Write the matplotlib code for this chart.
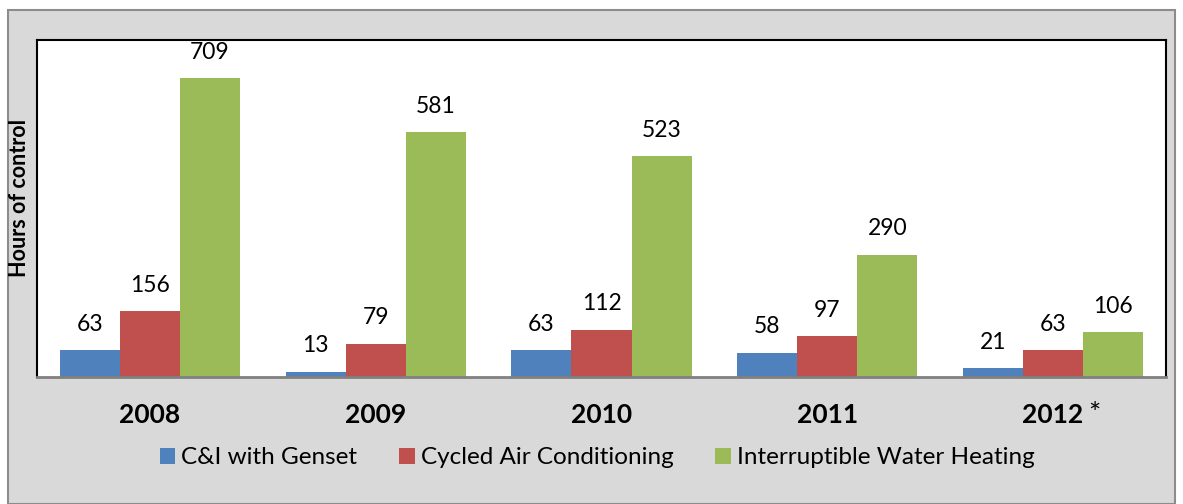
import numpy as np
import matplotlib.pyplot as plt
from matplotlib.patches import Rectangle

years = ['2008', '2009', '2010', '2011', '2012']
series = ['C&I with Genset', 'Cycled Air Conditioning', 'Interruptible Water Heating']
genset = [63, 13, 63, 58, 21]
cycled_ac = [156, 79, 112, 97, 63]
water_heating = [709, 581, 523, 290, 106]
colors = ['#4F81BD', '#C0504D', '#9BBB59']

plt.rcParams['font.family'] = ['Lato', 'DejaVu Sans']

fig = plt.figure(figsize=(11.83, 5.04), dpi=100, facecolor='white')
# grey chart area with a border
fig.patches.append(Rectangle((8 / 1183, 0), 1167 / 1183, 494 / 504, transform=fig.transFigure,
                             facecolor='#D9D9D9', edgecolor='#8C8C8C', linewidth=1.5, zorder=-5))

ax = fig.add_axes([37 / 1183, 1 - 377 / 504, 1129 / 1183, 337 / 504])
ax.set_zorder(2)
ax.set_facecolor('white')

x = np.arange(len(years))
w = 0.266
for i, (vals, c) in enumerate(zip([genset, cycled_ac, water_heating], colors)):
    bars = ax.bar(x + (i - 1) * w, vals, w, color=c, label=series[i], zorder=2)
    for b, v in zip(bars, vals):
        ax.annotate(str(v), (b.get_x() + b.get_width() / 2, v), xytext=(0, 11),
                    textcoords='offset points', ha='center', va='bottom', fontsize=16.5)

ax.set_xlim(-0.5, len(years) - 0.5)
ax.set_ylim(0, 799)
ax.set_yticks([])
ax.set_xticks(x)
ax.set_xticklabels(years, fontsize=19, fontweight='bold')
ax.tick_params(axis='x', length=0, pad=19)
for s in ax.spines.values():
    s.set_color('black')
    s.set_linewidth(1.5)
ax.spines['bottom'].set_color('#808080')
ax.spines['bottom'].set_linewidth(2)

# y axis title, placed by hand
fig.text(20 / 1183, 1 - 198 / 504, 'Hours of control', rotation=90, ha='center', va='center',
         fontsize=15.5, fontweight='bold')

fig.canvas.draw()
last = ax.get_xticklabels()[-1]
ax.annotate('*', xy=(1, 1), xycoords=last, xytext=(3, 1), textcoords='offset points',
            ha='left', va='top', fontsize=21)

ax.legend(loc='center', bbox_to_anchor=(597 / 1183, 1 - 458 / 504), bbox_transform=fig.transFigure,
          ncol=3, frameon=False, fontsize=17.5, handlelength=0.65, handleheight=0.65,
          handletextpad=0.25, columnspacing=1.7)

fig.savefig('out.png', dpi=100, facecolor='white')
